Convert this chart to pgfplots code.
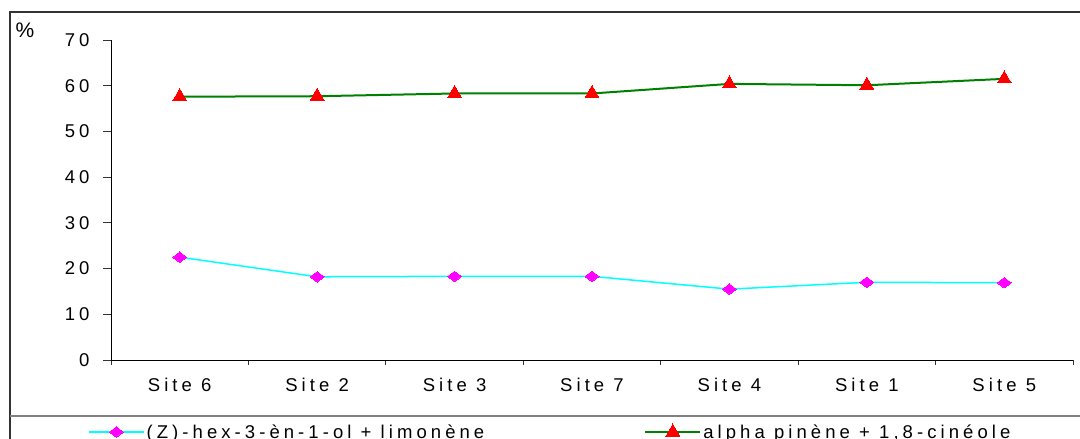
\documentclass[border=0pt]{standalone}
\usepackage{fontspec}
\setmainfont{Liberation Sans}[LetterSpace=22]
\newfontfamily\plainfont{Liberation Sans}
\usepackage{pgfplots}
\pgfplotsset{compat=1.18}

\definecolor{lgreen}{RGB}{0,128,0}
\definecolor{lcyan}{RGB}{0,255,255}
\definecolor{lmag}{RGB}{255,0,255}
\definecolor{lred}{RGB}{255,0,0}

\begin{document}
\begin{tikzpicture}[x=1pt,y=1pt]
\useasboundingbox (0,0) rectangle (1080,439);
\clip (0,0) rectangle (1080,439);
% frame and legend box
\draw[black!80, line width=1.2pt] (10,-10) -- (10,427) -- (1090,427);
\draw[black!50, line width=1.2pt] (10,23) -- (1090,23);
\node[font=\plainfont\fontsize{21}{24}\selectfont, anchor=center] at (25,409) {\%};

\begin{axis}[
  at={(111pt,79pt)}, anchor=south west,
  scale only axis, width=962pt, height=320pt,
  xmin=-0.5, xmax=6.5, ymin=0, ymax=70,
  axis x line*=bottom, axis y line*=left,
  axis line style={-, black, line width=0.8pt},
  font=\fontsize{18.5}{21}\selectfont,
  /pgf/number format/assume math mode=true,
  xtick={0,...,6},
  xticklabels={Site 6,Site 2,Site 3,Site 7,Site 4,Site 1,Site 5},
  minor xtick={-0.5,0.5,...,6.5},
  major x tick style={draw=none},
  ytick={0,10,...,70},
  tick align=outside,
  major tick length=8pt, minor tick length=5pt,
  tick style={black!80, line width=0.8pt},
  xticklabel style={yshift=-7pt},
  yticklabel style={xshift=-10pt},
  clip=false,
  legend columns=2,
  legend style={at={(-0.024,-0.225)}, anchor=west, draw=none, fill=none,
    font=\fontsize{18.5}{21}\selectfont, inner sep=0pt,
    /tikz/every even column/.append style={column sep=158pt}},
  legend image code/.code={\draw[mark repeat=2,mark phase=2,#1]
    plot coordinates {(0pt,0pt) (27.5pt,0pt) (55pt,0pt)};},
]
\addplot[lcyan, line width=1.5pt, mark=diamond*, mark size=7pt,
  mark options={fill=lmag, draw=lmag, rotate=90, line width=0pt}]
  coordinates {(0,22.5)(1,18.2)(2,18.3)(3,18.3)(4,15.5)(5,17.0)(6,16.9)};
\addlegendentry{(Z)-hex-3-èn-1-ol + limonène}
\addplot[lgreen, line width=2pt, mark=triangle*, mark size=8pt,
  mark options={fill=lred, draw=lred, line width=0pt}]
  coordinates {(0,57.6)(1,57.7)(2,58.3)(3,58.3)(4,60.4)(5,60.1)(6,61.5)};
\addlegendentry{alpha pinène + 1,8-cinéole}
\end{axis}
\end{tikzpicture}
\end{document}
